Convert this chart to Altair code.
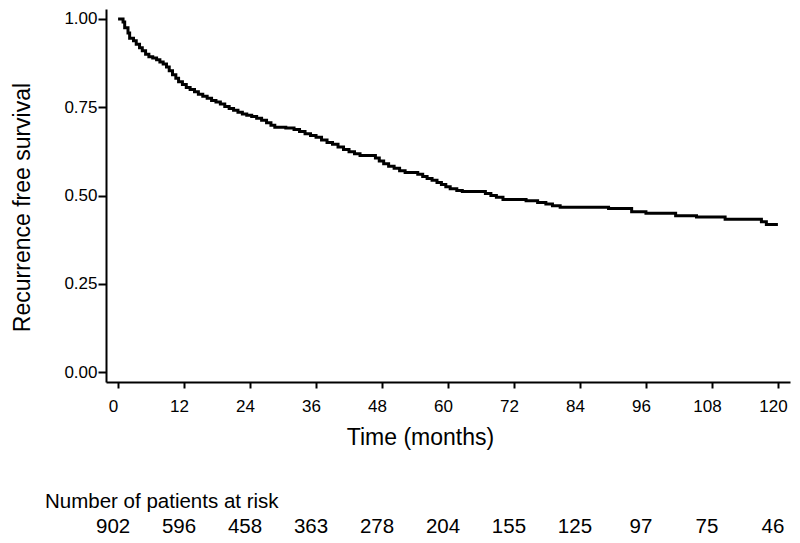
import altair as alt
import pandas as pd

# Kaplan-Meier step points (time in months, survival probability)
km_time = [0, 0.9, 1.2, 1.8, 2.1, 2.8, 3.3, 3.9, 4.4, 5.0, 5.6, 6.3, 7.0, 7.6, 8.2, 8.8,
           9.3, 9.9, 10.5, 11.0, 11.7, 12.4, 13.1, 13.9, 14.6, 15.4, 16.2, 17.0, 17.8,
           18.6, 19.4, 20.2, 21.0, 21.8, 22.6, 23.4, 24.3, 25.2, 26.1, 27.0, 27.8, 28.5,
           30.5, 32.0, 33.0, 34.0, 35.0, 36.0, 37.0, 38.0, 39.0, 40.0, 41.0, 42.0, 43.0,
           44.0, 46.8, 47.5, 48.3, 49.2, 50.2, 51.2, 52.2, 54.5, 55.4, 56.2, 57.1, 58.0,
           58.8, 59.6, 60.4, 61.6, 62.6, 66.8, 67.8, 68.8, 70.0, 74.2, 76.3, 77.8, 79.0,
           80.4, 89.2, 93.4, 96.0, 101.4, 105.2, 110.4, 117.0, 117.9, 120.0]
km_surv = [1.000, 0.991, 0.975, 0.960, 0.945, 0.938, 0.928, 0.918, 0.910, 0.900, 0.893,
           0.889, 0.884, 0.878, 0.872, 0.864, 0.853, 0.842, 0.832, 0.822, 0.814, 0.806,
           0.800, 0.794, 0.787, 0.781, 0.775, 0.769, 0.765, 0.759, 0.752, 0.746, 0.741,
           0.736, 0.731, 0.727, 0.724, 0.719, 0.713, 0.706, 0.699, 0.693, 0.691, 0.687,
           0.681, 0.675, 0.670, 0.665, 0.657, 0.650, 0.645, 0.637, 0.630, 0.624, 0.618,
           0.613, 0.606, 0.598, 0.590, 0.583, 0.577, 0.570, 0.565, 0.560, 0.554, 0.548,
           0.543, 0.537, 0.531, 0.525, 0.519, 0.514, 0.511, 0.506, 0.500, 0.495, 0.489,
           0.485, 0.480, 0.476, 0.471, 0.467, 0.463, 0.454, 0.450, 0.443, 0.439, 0.433,
           0.426, 0.418, 0.418]

# Number at risk table
risk_time = [0, 12, 24, 36, 48, 60, 72, 84, 96, 108, 120]
risk_n = [902, 596, 458, 363, 278, 204, 155, 125, 97, 75, 46]

x_ticks = [0, 12, 24, 36, 48, 60, 72, 84, 96, 108, 120]
y_ticks = [0, 0.25, 0.5, 0.75, 1.0]

FONT = "Liberation Sans"

km = pd.DataFrame({"time": km_time, "surv": km_surv})
risk = pd.DataFrame({"time": risk_time, "n": [str(v) for v in risk_n]})
header = pd.DataFrame({"label": ["Number of patients at risk"]})

xscale = alt.Scale(domain=[-2.2, 122.2], nice=False, zero=False)
yscale = alt.Scale(domain=[-0.028, 1.028], nice=False, zero=False)

common_axis = dict(grid=False, domainColor="black", tickColor="black",
                   labelColor="black", titleColor="black",
                   labelFont=FONT, titleFont=FONT,
                   labelFontSize=17, tickWidth=2, domainWidth=2,
                   titleFontSize=23, titleFontWeight="normal",
                   titleBaseline="middle", titleAlign="center", labelFlush=False)

line = alt.Chart(km).mark_line(
    interpolate="step-after", color="black", strokeWidth=3
).encode(
    x=alt.X("time:Q", scale=xscale,
            axis=alt.Axis(values=x_ticks, title="Time (months)", format="d",
                          labelOffset=-5, labelPadding=10, tickSize=6,
                          titleX=314, titleY=55, **common_axis)),
    y=alt.Y("surv:Q", scale=yscale,
            axis=alt.Axis(values=y_ticks, title="Recurrence free survival", format=".2f",
                          labelPadding=1, tickSize=8,
                          titleX=-84, titleY=198, **common_axis)),
)

risk_text = alt.Chart(risk).mark_text(
    fontSize=20.5, font=FONT, color="black", baseline="middle", align="center", dx=-5
).encode(
    x=alt.X("time:Q", scale=xscale),
    y=alt.value(518),
    text="n:N",
)

header_text = alt.Chart(header).mark_text(
    fontSize=20.5, font=FONT, color="black", baseline="middle", align="left"
).encode(
    x=alt.value(-61),
    y=alt.value(493),
    text="label:N",
)

chart = alt.layer(line, risk_text, header_text).properties(
    width=684, height=373,
    background="white",
    autosize=alt.AutoSizeParams(type="none"),
    padding={"left": 98, "top": 1, "right": 2, "bottom": 160},
).configure_view(stroke=None)

chart.save("out.html", embed_options={"renderer": "svg", "actions": False})
